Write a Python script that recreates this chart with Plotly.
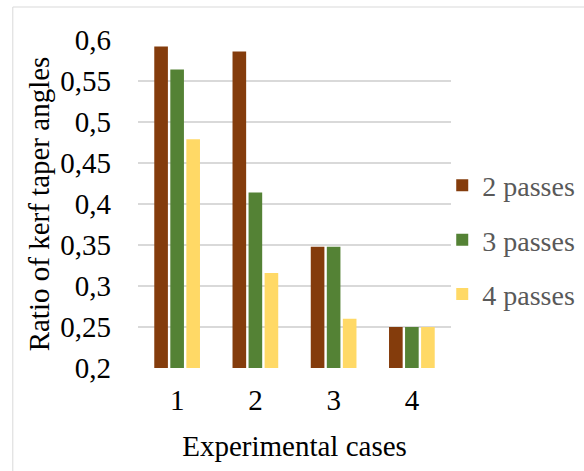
import plotly.graph_objects as go

# Experimental data: ratio of kerf taper angles per case and number of passes
cases = ["1", "2", "3", "4"]
passes_2 = [0.592, 0.586, 0.348, 0.25]
passes_3 = [0.564, 0.414, 0.348, 0.25]
passes_4 = [0.479, 0.316, 0.26, 0.25]
series_names = ["2 passes", "3 passes", "4 passes"]
series_colors = ["#843C0C", "#548235", "#FFD966"]

y_ticks = [0.2, 0.25, 0.3, 0.35, 0.4, 0.45, 0.5, 0.55, 0.6]
y_tick_labels = ["0,2", "0,25", "0,3", "0,35", "0,4", "0,45", "0,5", "0,55", "0,6"]

font_family = "Liberation Serif"

fig = go.Figure()
for i, (name, vals, col) in enumerate(zip(series_names, [passes_2, passes_3, passes_4], series_colors)):
    fig.add_trace(go.Bar(
        x=cases, y=vals, name=name,
        marker=dict(color=col, line=dict(width=0)),
        legendgroup=f"g{i}",
    ))

# light frame around the chart area
fig.add_shape(
    type="rect", xref="paper", yref="paper",
    x0=-0.40, x1=1.5, y0=-0.36, y1=1.1006,
    line=dict(color="#D9D9D9", width=1), fillcolor="rgba(0,0,0,0)", layer="below",
)

fig.update_layout(
    width=584, height=471,
    margin=dict(l=138, r=133, t=40, b=103, autoexpand=False),
    paper_bgcolor="white", plot_bgcolor="white",
    barmode="group", bargap=0.385, bargroupgap=0.15,
    font=dict(family=font_family, color="#000000", size=29),
    legend=dict(
        x=0.972, xanchor="left", y=0.39, yanchor="middle",
        font=dict(family=font_family, size=28, color="#595959"),
        traceorder="grouped", tracegroupgap=15,
        bgcolor="rgba(0,0,0,0)",
    ),
    showlegend=True,
)
fig.update_yaxes(
    range=[0.2, 0.6], tickvals=y_ticks, ticktext=y_tick_labels,
    showgrid=True, gridcolor="#D9D9D9", gridwidth=2,
    zeroline=False, showline=False, ticks="",
    ticklabelstandoff=26,
    tickfont=dict(family=font_family, size=29, color="#000000"),
    title=dict(text="Ratio of kerf taper angles", font=dict(family=font_family, size=29, color="#000000"), standoff=2),
)
fig.update_xaxes(
    showgrid=False, zeroline=False, showline=False, ticks="",
    ticklabelstandoff=12,
    tickfont=dict(family=font_family, size=29, color="#000000"),
    title=dict(text="Experimental cases", font=dict(family=font_family, size=29, color="#000000"), standoff=20),
)

fig.write_html("out.html")
